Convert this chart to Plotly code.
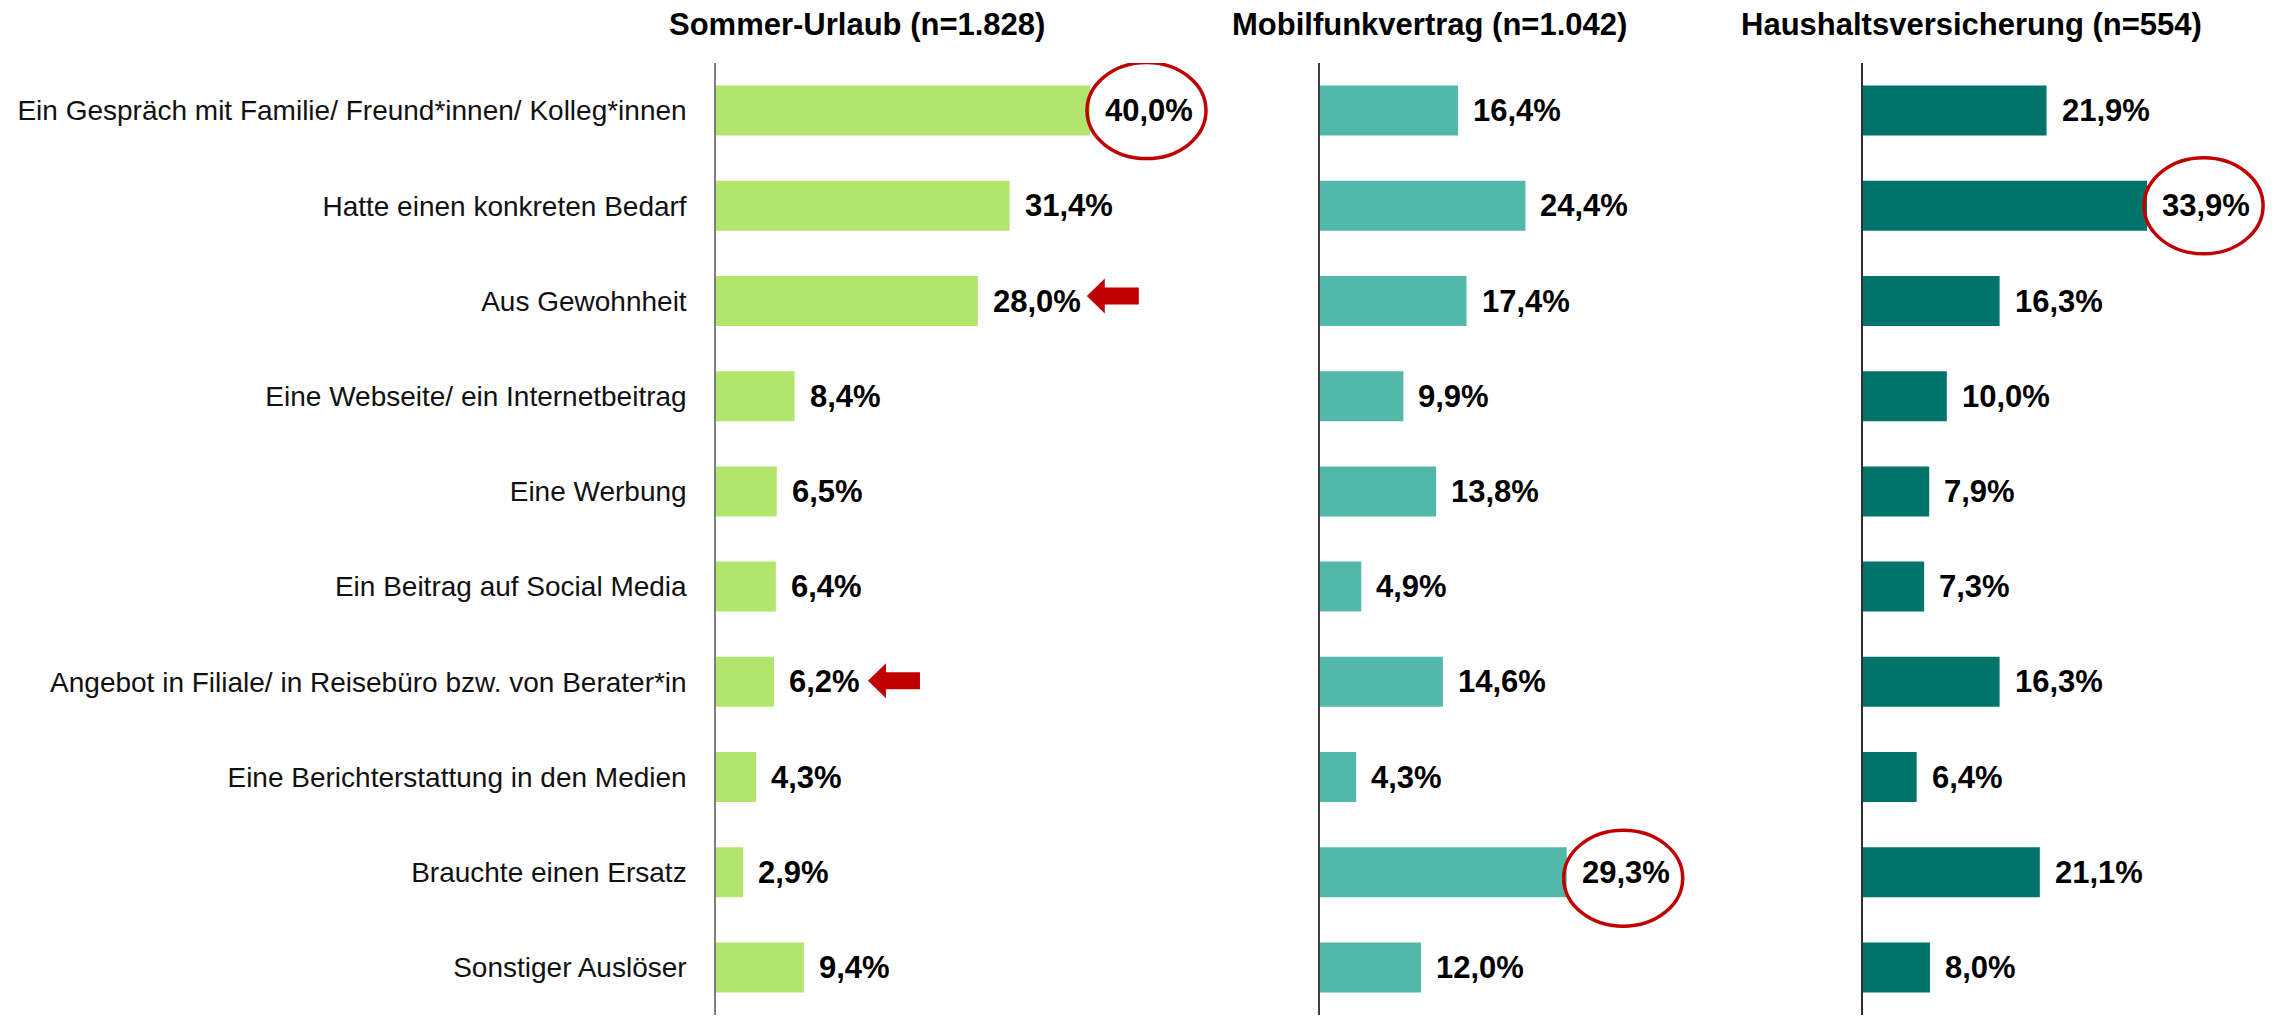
import plotly.graph_objects as go

categories = [
    "Ein Gespräch mit Familie/ Freund*innen/ Kolleg*innen",
    "Hatte einen konkreten Bedarf",
    "Aus Gewohnheit",
    "Eine Webseite/ ein Internetbeitrag",
    "Eine Werbung",
    "Ein Beitrag auf Social Media",
    "Angebot in Filiale/ in Reisebüro bzw. von Berater*in",
    "Eine Berichterstattung in den Medien",
    "Brauchte einen Ersatz",
    "Sonstiger Auslöser",
]
sommer = [40.0, 31.4, 28.0, 8.4, 6.5, 6.4, 6.2, 4.3, 2.9, 9.4]
mobil = [16.4, 24.4, 17.4, 9.9, 13.8, 4.9, 14.6, 4.3, 29.3, 12.0]
haus = [21.9, 33.9, 16.3, 10.0, 7.9, 7.3, 16.3, 6.4, 21.1, 8.0]
titles = ["Sommer-Urlaub (n=1.828)", "Mobilfunkvertrag (n=1.042)", "Haushaltsversicherung (n=554)"]
colors = ["#B2E56B", "#52B9AA", "#00736A"]

# highlights: (panel index, category index)
circles = [(0, 0), (1, 8), (2, 1)]
arrows = [(0, 2, 109, 5), (0, 6, 94, 1)]  # panel, cat, tip offset px, dy px

# page body has an 8px margin -> figure is laid out in page coords minus 8
W, H = 2267, 1009
series = [sommer, mobil, haus]
domains_px = [(708, 708 + 55 * 9.35), (1312, 1312 + 50 * 8.42), (1855, 1855 + 48.6 * 8.38)]
ranges = [[0, 55], [0, 50], [0, 48.6]]
title_x_px = [849, 1421, 1963]
TOP, BOT = 55, 2
PLOT_H = H - TOP - BOT

FONT = "Liberation Sans, Arial, sans-serif"

def fmt(v):
    return f"{v:.1f}".replace(".", ",") + "%"

fig = go.Figure()
annotations = []
shapes = []
for i, vals in enumerate(series):
    sfx = "" if i == 0 else str(i + 1)
    fig.add_trace(go.Bar(
        x=vals, y=categories, orientation="h",
        marker=dict(color=colors[i], line=dict(width=0)),
        width=0.525, xaxis="x" + sfx, yaxis="y" + sfx,
        hoverinfo="skip", showlegend=False,
    ))
    for c, v in zip(categories, vals):
        annotations.append(dict(
            x=v, y=c, xref="x" + sfx, yref="y" + sfx, text=fmt(v),
            showarrow=False, xanchor="left", yanchor="middle", xshift=13,
            font=dict(family=FONT, size=31, color="#000000", weight="bold"),
        ))
    annotations.append(dict(
        x=title_x_px[i] / W, y=1 + (TOP - 17) / PLOT_H, xref="paper", yref="paper",
        text="<b>" + titles[i] + "</b>", showarrow=False,
        xanchor="center", yanchor="middle",
        font=dict(family=FONT, size=31, color="#000000"),
    ))

# circles around highlighted values
for p, ci in circles:
    sfx = "" if p == 0 else str(p + 1)
    v = series[p][ci]
    dy = -6 if (p == 1) else 0
    shapes.append(dict(
        type="circle", xref="x" + sfx, yref="y" + sfx,
        xsizemode="pixel", ysizemode="pixel",
        xanchor=v, yanchor=categories[ci],
        x0=-3, x1=116, y0=-48 + dy, y1=48 + dy,
        line=dict(color="#C00000", width=3.5), fillcolor="rgba(0,0,0,0)",
    ))

# arrows pointing at values
for p, ci, t, dy in arrows:
    sfx = "" if p == 0 else str(p + 1)
    v = series[p][ci]
    pts = [(t, 0), (t + 18, 17.5), (t + 18, 8.5), (t + 52, 8.5),
           (t + 52, -8.5), (t + 18, -8.5), (t + 18, -17.5)]
    path = "M " + " L ".join(f"{x},{y + dy}" for x, y in pts) + " Z"
    shapes.append(dict(
        type="path", xref="x" + sfx, yref="y" + sfx,
        xsizemode="pixel", ysizemode="pixel",
        xanchor=v, yanchor=categories[ci], path=path,
        fillcolor="#C00000", line=dict(width=0),
    ))

layout = dict(
    width=W, height=H,
    margin=dict(l=0, r=0, t=TOP, b=BOT),
    paper_bgcolor="white", plot_bgcolor="white",
    bargap=0.475,
    annotations=annotations, shapes=shapes,
)
line_colors = ["#7f7f7f", "#404040", "#303030"]
for i in range(3):
    sfx = "" if i == 0 else str(i + 1)
    d0, d1 = domains_px[i]
    layout["xaxis" + sfx] = dict(
        domain=[d0 / W, min(d1 / W, 1.0)], range=ranges[i], visible=False,
        anchor="y" + sfx, fixedrange=True,
    )
    layout["yaxis" + sfx] = dict(
        type="category", categoryorder="array", categoryarray=categories,
        range=[9.5, -0.5], anchor="x" + sfx,
        showline=True, linecolor=line_colors[i], linewidth=1.5,
        showgrid=False, zeroline=False, ticks="",
        showticklabels=(i == 0), ticklabelstandoff=22,
        tickfont=dict(family=FONT, size=28, color="#111111"),
        fixedrange=True,
    )
fig.update_layout(**layout)
fig.write_html("out.html")
